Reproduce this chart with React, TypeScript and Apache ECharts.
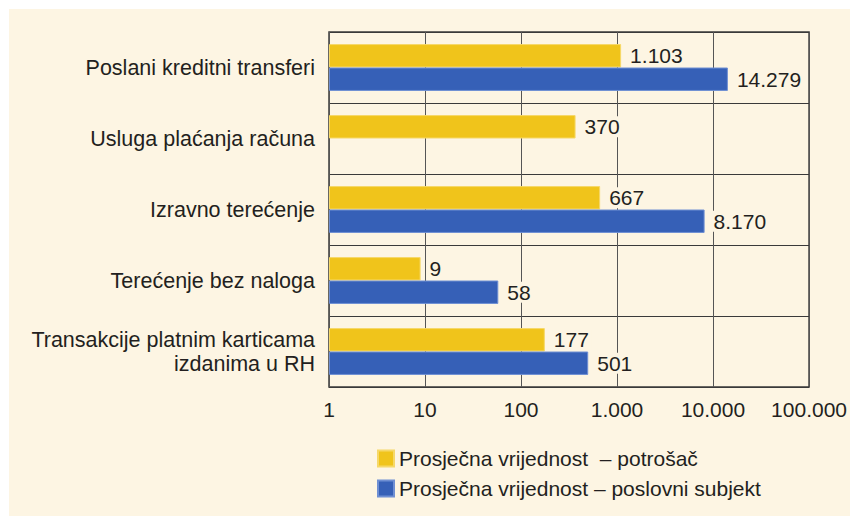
import React, { useEffect, useRef } from "react";
import * as echarts from "echarts";

const categories = [
  "Poslani kreditni transferi",
  "Usluga plaćanja računa",
  "Izravno terećenje",
  "Terećenje bez naloga",
  "Transakcije platnim karticama\nizdanima u RH",
];
const consumerValues = [1103, 370, 667, 9, 177];
const businessValues: (number | null)[] = [14279, null, 8170, 58, 501];
const seriesNames = [
  "Prosječna vrijednost  – potrošač",
  "Prosječna vrijednost – poslovni subjekt",
];
const axisTicks = [1, 10, 100, 1000, 10000, 100000];

const BEIGE = "#fdf5e3";
const TEXT = "#231f20";
const FONT = "Liberation Sans, Arial, sans-serif";

function fmt(v: number): string {
  return Math.round(v)
    .toString()
    .replace(/\B(?=(\d{3})+(?!\d))/g, ".");
}

export default function App() {
  const ref = useRef<HTMLDivElement>(null);
  useEffect(() => {
    document.body.style.margin = "0";
    if (!ref.current) return;
    const chart = echarts.init(ref.current, null, { renderer: "svg" });
    const labelStyle = {
      show: true,
      position: "right" as const,
      distance: 6,
      color: TEXT,
      fontSize: 21,
      fontFamily: FONT,
      backgroundColor: BEIGE,
      padding: [0, 3, 0, 3],
      formatter: (p: any) => fmt(p.value),
    };
    chart.setOption({
      animation: false,
      textStyle: { fontFamily: FONT },
      grid: {
        left: 329,
        right: 37,
        top: 32,
        bottom: 129,
        show: true,
        borderColor: "#3a3a3a",
        borderWidth: 1.5,
        backgroundColor: "transparent",
      },
      legend: {
        orient: "vertical",
        left: 372,
        top: 443,
        itemWidth: 16,
        itemHeight: 16,
        itemGap: 9,
        icon: "rect",
        textStyle: {
          color: TEXT,
          fontSize: 21,
          fontFamily: FONT,
        },
        data: seriesNames,
      },
      xAxis: {
        type: "log",
        logBase: 10,
        min: axisTicks[0],
        max: axisTicks[axisTicks.length - 1],
        axisLine: { show: false },
        axisTick: { show: false },
        splitLine: { show: true, lineStyle: { color: "#555", width: 1 } },
        axisLabel: {
          color: TEXT,
          fontSize: 21,
          margin: 12,
          showMaxLabel: true,
          showMinLabel: true,
          formatter: (v: number) => fmt(v),
        },
      },
      yAxis: {
        type: "category",
        inverse: true,
        data: categories,
        axisLine: { show: false },
        axisTick: { show: false },
        splitLine: { show: true, lineStyle: { color: "#3a3a3a", width: 1.2 } },
        axisLabel: {
          color: TEXT,
          fontSize: 21.5,
          margin: 14,
          lineHeight: 24,
          align: "right",
        },
      },
      series: [
        {
          name: seriesNames[0],
          type: "bar",
          data: consumerValues,
          barGap: "0%",
          barCategoryGap: "34%",
          itemStyle: {
            color: "#f0c41b",
            borderColor: "#f6d868",
            borderWidth: 1,
          },
          label: labelStyle,
        },
        {
          name: seriesNames[1],
          type: "bar",
          data: businessValues,
          barGap: "0%",
          barCategoryGap: "34%",
          itemStyle: {
            color: "#3660b7",
            borderColor: "#6f8fd3",
            borderWidth: 1,
          },
          label: labelStyle,
        },
      ],
    });
    return () => chart.dispose();
  }, []);
  return (
    <div style={{ position: "relative", width: 850, height: 516, background: "#ffffff", overflow: "hidden" }}>
      <div style={{ position: "absolute", left: 9, top: 9, width: 841, height: 507, background: BEIGE }} />
      <div ref={ref} style={{ position: "absolute", left: 0, top: 0, width: 850, height: 516 }} />
    </div>
  );
}
